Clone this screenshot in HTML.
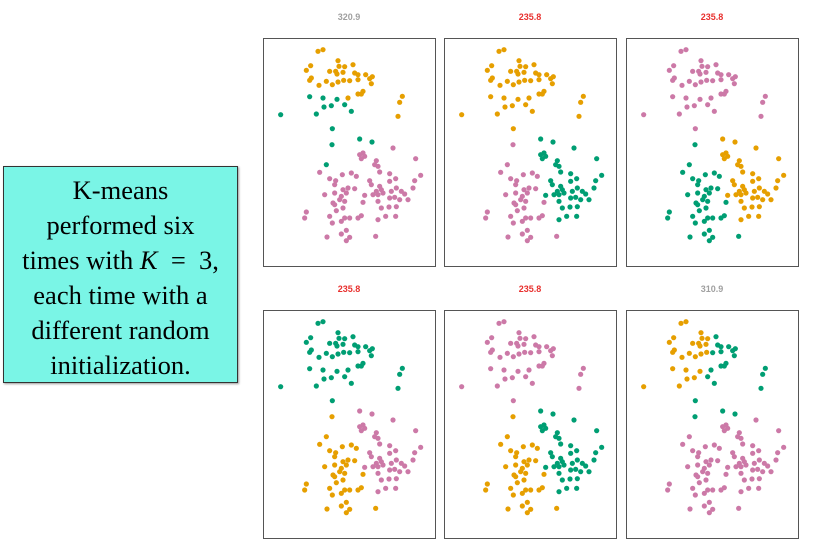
<!DOCTYPE html>
<html><head><meta charset="utf-8">
<style>
body{margin:0;background:#fff;width:818px;height:546px;overflow:hidden;position:relative;font-family:"Liberation Sans",sans-serif}
#box{position:absolute;left:3px;top:166px;background:#7af5e6;border:1px solid #333;box-shadow:1px 1px 2px #999;
font-family:"Liberation Serif",serif;font-size:26.5px;line-height:35px;text-align:center;color:#000;padding-top:6px;box-sizing:border-box;width:235px;height:217px;white-space:nowrap}
</style></head><body>
<div id="box">K-means<br>performed six<br>times with <i>K</i>&ensp;=&ensp;3,<br>each time with a<br>different random<br>initialization.</div>
<svg id="chart" width="818" height="546" style="position:absolute;left:0;top:0"></svg>
<script>
// point coordinates in data units (0..516 x, 0..684 y)
const pointX=[165,180,143,130,225,228,245,270,218,200,222,240,275,285,308,328,320,145,140,190,168,208,225,242,260,285,300,295,285,325,255,140,180,222,183,205,160,53,245,265,208,418,410,405,207,290,327,190,
290,390,300,305,295,340,335,345,458,350,380,398,473,455,320,325,350,380,340,355,345,360,330,305,385,400,415,425,395,410,435,380,345,355,378,400,345,368,398,450,
170,200,238,265,280,218,215,255,240,275,185,215,235,250,230,245,210,215,300,240,130,125,200,220,245,260,235,208,285,295,250,235,260,250,192,338];
const pointY=[40,35,83,97,68,85,86,80,100,100,108,103,105,110,110,116,122,120,127,130,142,140,132,127,128,125,160,168,168,137,180,176,180,184,207,203,228,230,200,220,272,175,193,235,320,303,312,380,
350,330,345,355,362,368,380,385,362,402,407,422,412,428,428,440,445,430,460,455,470,465,470,472,460,450,460,468,478,485,485,480,490,510,507,506,545,535,535,450,
403,422,410,405,415,428,440,450,455,452,470,465,475,465,485,490,495,500,493,510,522,540,535,518,540,540,550,555,540,533,577,588,598,608,597,595];
const pointGroup="aaaaaaar"+"aaaa"+"rrrrr"+"aaaaaaa"+"rrrrrrr"+"bbbbbbb"+"sss"+"rrr"+"t"+"uu"+"v"+"d".repeat(40)+"c".repeat(36);
const panelTitles=["320.9","235.8","235.8","235.8","235.8","310.9"];
const titleBest=[false,true,true,true,true,false];
// colour per group per panel: O orange, G green, P pink
const groupColors={
 a:["O","O","P","G","P","O"], b:["G","O","P","G","P","O"], r:["O","O","P","G","P","G"],
 s:["G","O","P","G","P","G"], t:["G","P","G","O","O","G"], u:["G","G","O","P","G","G"],
 v:["G","P","G","O","O","P"], c:["P","P","G","O","O","P"], d:["P","G","O","P","G","P"]};
const palette={O:"#E69F00",G:"#009E73",P:"#CC79A7"};
const NS="http://www.w3.org/2000/svg";
const svg=document.getElementById("chart");
const lefts=[263,444,626], tops=[38,310], W=172, H=228;
function mk(t,a){const e=document.createElementNS(NS,t);for(const k in a)e.setAttribute(k,a[k]);svg.appendChild(e);return e;}
panelTitles.forEach((title,p)=>{
  const px=lefts[p%3], py=tops[Math.floor(p/3)];
  const xs=v=>px+v*W/516, ys=v=>py+v*H/684;
  const t=mk("text",{x:px+W/2,y:py-18,"text-anchor":"middle","font-size":"9","font-weight":"bold",fill:titleBest[p]?"#e8302e":"#a0a0a0","font-family":"Liberation Sans, sans-serif"});
  t.textContent=title;
  
  
  const r=mk("rect",{x:px+0.5,y:py+0.5,width:W,height:H,fill:"#fff",stroke:"#555","stroke-width":1});
  
  
  pointX.forEach((x,i)=>{
    const g=pointGroup[i]||"c";
    const c=mk("circle",{cx:xs(x),cy:ys(pointY[i]),r:2.6,fill:palette[groupColors[g][p]]});
    
    
  });
});
</script>
</body></html>
